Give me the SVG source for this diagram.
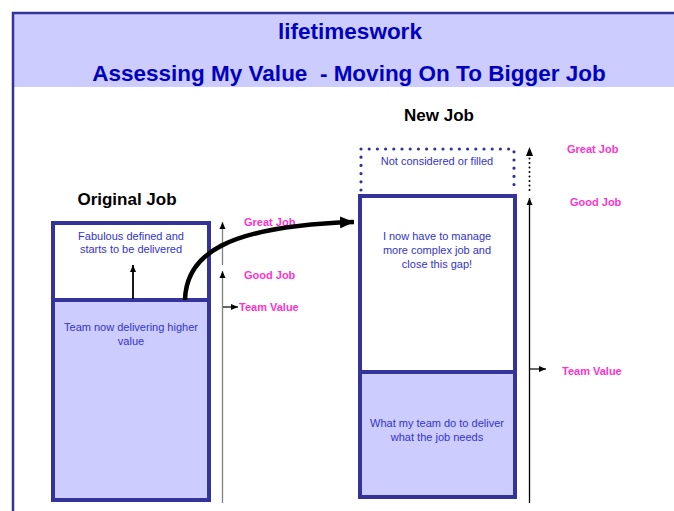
<svg xmlns="http://www.w3.org/2000/svg" width="674" height="511" viewBox="0 0 674 511">
<defs>
<style>
.t{font-family:"Liberation Sans",Arial,sans-serif}
.title{font-size:22.5px;font-weight:bold;fill:#0000c0;text-anchor:middle}
.head{font-size:17px;font-weight:bold;fill:#000;text-anchor:middle}
.body{font-size:11px;fill:#3333cc;text-anchor:middle}
.lbl{font-size:11px;font-weight:bold;fill:#ff33cc}
.box{fill:none;stroke:#333399;stroke-width:4}
.fill{fill:#ccccff}
.axis{stroke:#808080;stroke-width:1.3;fill:none}
.axisk{stroke:#000;stroke-width:1.3;fill:none}
</style>
<marker id="ah" markerWidth="8" markerHeight="8" refX="7" refY="4" orient="auto" markerUnits="userSpaceOnUse">
<path d="M0,1 L7,4 L0,7 z" fill="#000"/>
</marker>
<marker id="big" markerWidth="16" markerHeight="12" refX="14" refY="6" orient="auto" markerUnits="userSpaceOnUse">
<path d="M0,0 L14,6 L0,12 z" fill="#000"/>
</marker>
</defs>
<rect width="674" height="511" fill="#fff"/>
<g id="header">
<rect x="14" y="14" width="660" height="73" class="fill"/>
<path d="M13,511 V13 H674" fill="none" stroke="#333399" stroke-width="2.5"/>
<text x="350" y="39" class="t title">lifetimeswork</text>
<text x="349" y="81" class="t title" xml:space="preserve">Assessing My Value  - Moving On To Bigger Job</text>
</g>
<g id="original-job">
<text x="127" y="205" class="t head">Original Job</text>
<rect x="53" y="300" width="156" height="200" class="fill"/>
<rect x="53" y="223" width="156" height="277" class="box"/>
<line x1="53" y1="300" x2="209" y2="300" stroke="#333399" stroke-width="4"/>
<text x="131" y="240" class="t body">Fabulous defined and</text>
<text x="131" y="253" class="t body">starts to be delivered</text>
<text x="131" y="331" class="t body">Team now delivering higher</text>
<text x="131" y="345" class="t body">value</text>
</g>
<g id="original-scale">
<line x1="222.5" y1="503" x2="222.5" y2="271" class="axis" marker-end="url(#ah)"/>
<line x1="222.5" y1="265" x2="222.5" y2="222" class="axis" marker-end="url(#ah)"/>
<text x="244" y="226" class="t lbl">Great Job</text>
<text x="244" y="279" class="t lbl">Good Job</text>
<text x="239" y="311" class="t lbl">Team Value</text>
</g>
<g id="new-job">
<text x="439" y="121" class="t head">New Job</text>
<path d="M361,190 V149 H514 V190" fill="none" stroke="#333399" stroke-width="3.2" stroke-linecap="round" stroke-dasharray="0 8.2"/>
<text x="437" y="165" class="t body">Not considered or filled</text>
<rect x="360" y="372" width="155" height="125" class="fill"/>
<rect x="360" y="196" width="155" height="301" class="box"/>
<line x1="360" y1="372" x2="515" y2="372" stroke="#333399" stroke-width="4"/>
<text x="437" y="240" class="t body">I now have to manage</text>
<text x="437" y="254" class="t body">more complex job and</text>
<text x="437" y="268" class="t body">close this gap!</text>
<text x="437" y="427" class="t body">What my team do to deliver</text>
<text x="437" y="441" class="t body">what the job needs</text>
</g>
<g id="new-scale">
<line x1="529.5" y1="503" x2="529.5" y2="198" class="axisk" marker-end="url(#ah)"/>
<line x1="529.5" y1="190" x2="529.5" y2="156" stroke="#000" stroke-width="2" stroke-linecap="round" stroke-dasharray="0 4.5"/>
<path d="M529.5,147 L533,156 L526,156 z" fill="#000"/>
<text x="567" y="153" class="t lbl">Great Job</text>
<text x="570" y="206" class="t lbl">Good Job</text>
<text x="562" y="375" class="t lbl">Team Value</text>
</g>
<g id="connectors">
<line x1="133" y1="299" x2="133" y2="265" stroke="#000" stroke-width="1.8" marker-end="url(#ah)"/>
<line x1="223" y1="307" x2="238" y2="307" stroke="#000" stroke-width="1.2" marker-end="url(#ah)"/>
<line x1="530" y1="369" x2="546" y2="369" stroke="#000" stroke-width="1.2" marker-end="url(#ah)"/>
<path d="M185,300 C186,255 225,226 354,222" fill="none" stroke="#000" stroke-width="4.5" marker-end="url(#big)"/>
</g>
</svg>
